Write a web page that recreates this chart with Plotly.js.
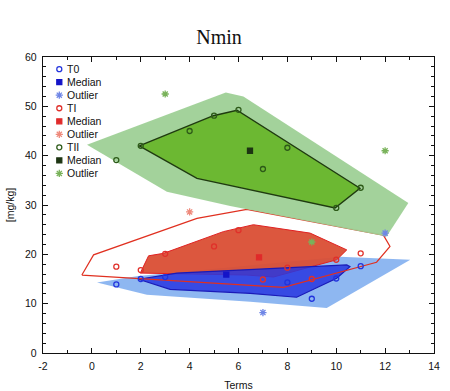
<!DOCTYPE html>
<html><head><meta charset="utf-8">
<script src="https://cdn.plot.ly/plotly-3.0.1.min.js"></script>
<style>html,body{margin:0;padding:0;background:#fff}#chart{width:450px;height:391px}</style>
</head><body><div id="chart"></div>
<script>
// ---- T0 ----
const t0X = [1, 2, 3, 8, 9, 10, 11];
const t0Y = [13.9, 15.0, 15.4, 14.3, 11.0, 15.1, 17.6];
const t0MedX = [5.5];
const t0MedY = [15.9];
const t0OutX = [7, 12];
const t0OutY = [8.2, 24.3];
const t0BagX = [1.91, 3.48, 10.43, 10.56, 10.02, 8.38, 6.48, 3.20];
const t0BagY = [14.95, 16.2, 17.85, 17.5, 15.15, 11.3, 12.1, 12.9];
const t0FenceX = [0.21, 1.9, 10.16, 13.03, 9.61, 6.48, 2.25];
const t0FenceY = [14.3, 15.6, 19.5, 18.9, 9.1, 10.4, 11.8];
// ---- TI ----
const t1X = [1, 2, 3, 5, 6, 7, 8, 9, 10, 11];
const t1Y = [17.5, 16.8, 20.1, 21.6, 24.9, 14.9, 17.3, 15.0, 18.9, 20.2];
const t1MedX = [6.84];
const t1MedY = [19.4];
const t1OutX = [4];
const t1OutY = [28.6];
const t1BagX = [1.98, 2.32, 2.93, 5.38, 6.61, 8.93, 10.43, 10.02, 7.43, 6.34];
const t1BagY = [16.2, 19.7, 20.2, 24.6, 26.0, 24.3, 20.9, 18.9, 15.4, 15.8];
const t1FenceX = [-0.41, 0.07, 4.30, 6.34, 11.93, 12.2, 11.65, 7.84];
const t1FenceY = [15.8, 19.9, 27.3, 29.1, 23.9, 21.6, 18.4, 13.3];
// ---- TII ----
const t2X = [1, 2, 4, 5, 6, 7, 8, 10, 11];
const t2Y = [39.1, 42.0, 45.0, 48.1, 49.3, 37.3, 41.6, 29.4, 33.5];
const t2MedX = [6.47];
const t2MedY = [41.0];
const t2OutX = [3, 12, 9];
const t2OutY = [52.5, 41.0, 22.5];
const t2BagX = [1.94, 4.97, 5.94, 10.97, 9.95, 4.30];
const t2BagY = [42.0, 48.1, 49.2, 33.4, 29.4, 35.4];
const t2FenceX = [-0.20, 5.48, 6.20, 12.95, 12.06, 5.66, 3.07];
const t2FenceY = [42.2, 52.8, 52.0, 30.4, 23.6, 29.8, 32.7];

const legendLabels = ['T0', 'Median', 'Outlier', 'TI', 'Median', 'Outlier', 'TII', 'Median', 'Outlier'];
const xTicks = [-2, 0, 2, 4, 6, 8, 10, 12, 14];
const yTicks = [0, 10, 20, 30, 40, 50, 60];

// ---- styles ----
const C = {
  t0: {pt: '#2233dd', med: '#1414c8', out: '#6f86e6', fence: 'rgba(130,175,240,0.9)', bag: 'rgba(40,55,225,0.85)', bagLine: '#1a1ab8'},
  t1: {pt: '#e0302a', med: '#e02a2a', out: '#ee8a7c', bag: 'rgba(218,78,52,0.95)', bagLine: '#e02222', fenceLine: '#e03020'},
  t2: {pt: '#2d5a18', med: '#1d3512', out: '#79b25a', fence: 'rgba(158,208,150,0.95)', bag: '#6cb832', bagLine: '#1f3a10'}
};
const close = a => a.concat([a[0]]);
const poly = (x, y, fill, lineColor, lw) => ({
  type: 'scatter', mode: 'lines', x: close(x), y: close(y), fill: 'toself',
  fillcolor: fill, line: {color: lineColor || 'rgba(0,0,0,0)', width: lw || 0},
  hoverinfo: 'skip', showlegend: false
});
const pts = (x, y, symbol, color, size) => ({
  type: 'scatter', mode: 'markers', x: x, y: y, showlegend: false, hoverinfo: 'x+y',
  marker: {symbol: symbol, color: color, size: size, line: {color: color, width: 1.3}}
});

const traces = [
  poly(t0FenceX, t0FenceY, C.t0.fence),
  poly(t1BagX, t1BagY, C.t1.bag, C.t1.bagLine, 1),
  poly(t0BagX, t0BagY, C.t0.bag, C.t0.bagLine, 1.2),
  poly(t1FenceX, t1FenceY, 'rgba(0,0,0,0)', C.t1.fenceLine, 1.2),
  poly(t2FenceX, t2FenceY, C.t2.fence),
  poly(t2BagX, t2BagY, C.t2.bag, C.t2.bagLine, 1.4),
  pts(t0X, t0Y, 'circle-open', C.t0.pt, 5),
  pts(t0MedX, t0MedY, 'square', C.t0.med, 5),
  pts(t0OutX, t0OutY, 'asterisk-open', C.t0.out, 6),
  pts(t1X, t1Y, 'circle-open', C.t1.pt, 5),
  pts(t1MedX, t1MedY, 'square', C.t1.med, 5),
  pts(t1OutX, t1OutY, 'asterisk-open', C.t1.out, 6),
  pts(t2X, t2Y, 'circle-open', C.t2.pt, 5),
  pts(t2MedX, t2MedY, 'square', C.t2.med, 5),
  pts(t2OutX, t2OutY, 'asterisk-open', C.t2.out, 6)
];

// custom compact legend on an overlay axis (paper-like 0..1)
const legSymbols = ['circle-open', 'square', 'asterisk-open'];
const legColors = [C.t0.pt, C.t0.med, C.t0.out, C.t1.pt, C.t1.med, C.t1.out, C.t2.pt, C.t2.med, C.t2.out];
const legTop = 0.959, legStep = 0.04405, legMarkX = 0.0417, legTextX = 0.055;
const annotations = [];
legendLabels.forEach((lab, i) => {
  const yy = legTop - i * legStep;
  traces.push({
    type: 'scatter', mode: 'markers', xaxis: 'x2', yaxis: 'y2', x: [legMarkX], y: [yy],
    showlegend: false, hoverinfo: 'skip',
    marker: {symbol: legSymbols[i % 3], color: legColors[i], size: i % 3 === 2 ? 6 : 5,
             line: {color: legColors[i], width: 1.3}}
  });
  annotations.push({xref: 'paper', yref: 'paper', x: legTextX, y: yy, xanchor: 'left', yanchor: 'middle',
    text: lab, showarrow: false, font: {family: 'Liberation Sans, Arial, sans-serif', size: 10.5, color: '#111'}});
});

const axFont = {family: 'Liberation Sans, Arial, sans-serif', size: 10.5, color: '#111'};
const layout = {
  width: 450, height: 391,
  margin: {l: 43, r: 16, t: 57, b: 38},
  paper_bgcolor: '#fff', plot_bgcolor: '#fff',
  showlegend: false,
  title: {text: 'Nmin', font: {family: 'Liberation Serif, Times New Roman, serif', size: 20, color: '#111'},
          x: 219 / 450, xref: 'container', xanchor: 'center', y: 0.905, yref: 'container', yanchor: 'middle'},
  xaxis: {range: [-2, 14], tickvals: xTicks, ticktext: xTicks.map(String), ticks: 'inside', ticklen: 5, tickwidth: 1,
          tickcolor: '#111', showline: true, linecolor: '#111', linewidth: 1.3, mirror: 'ticks',
          minor: {dtick: 1, tick0: -2, ticks: 'inside', ticklen: 3, tickcolor: '#111'},
          showgrid: false, zeroline: false, tickfont: axFont, ticklabelstandoff: 3,
          title: {text: 'Terms', font: axFont, standoff: 10}},
  yaxis: {range: [0, 60], tickvals: yTicks, ticktext: yTicks.map(String), ticks: 'inside', ticklen: 5, tickwidth: 1,
          tickcolor: '#111', showline: true, linecolor: '#111', linewidth: 1.3, mirror: 'ticks',
          minor: {dtick: 2, tick0: 0, ticks: 'inside', ticklen: 3, tickcolor: '#111'},
          showgrid: false, zeroline: false, tickfont: axFont, ticklabelstandoff: 3,
          title: {text: '[mg/kg]', font: axFont, standoff: 8}},
  xaxis2: {overlaying: 'x', anchor: 'y2', range: [0, 1], visible: false, fixedrange: true},
  yaxis2: {overlaying: 'y', anchor: 'x2', range: [0, 1], visible: false, fixedrange: true},
  annotations: annotations
};
Plotly.newPlot('chart', traces, layout, {displayModeBar: false, staticPlot: true});
</script>
</body></html>
